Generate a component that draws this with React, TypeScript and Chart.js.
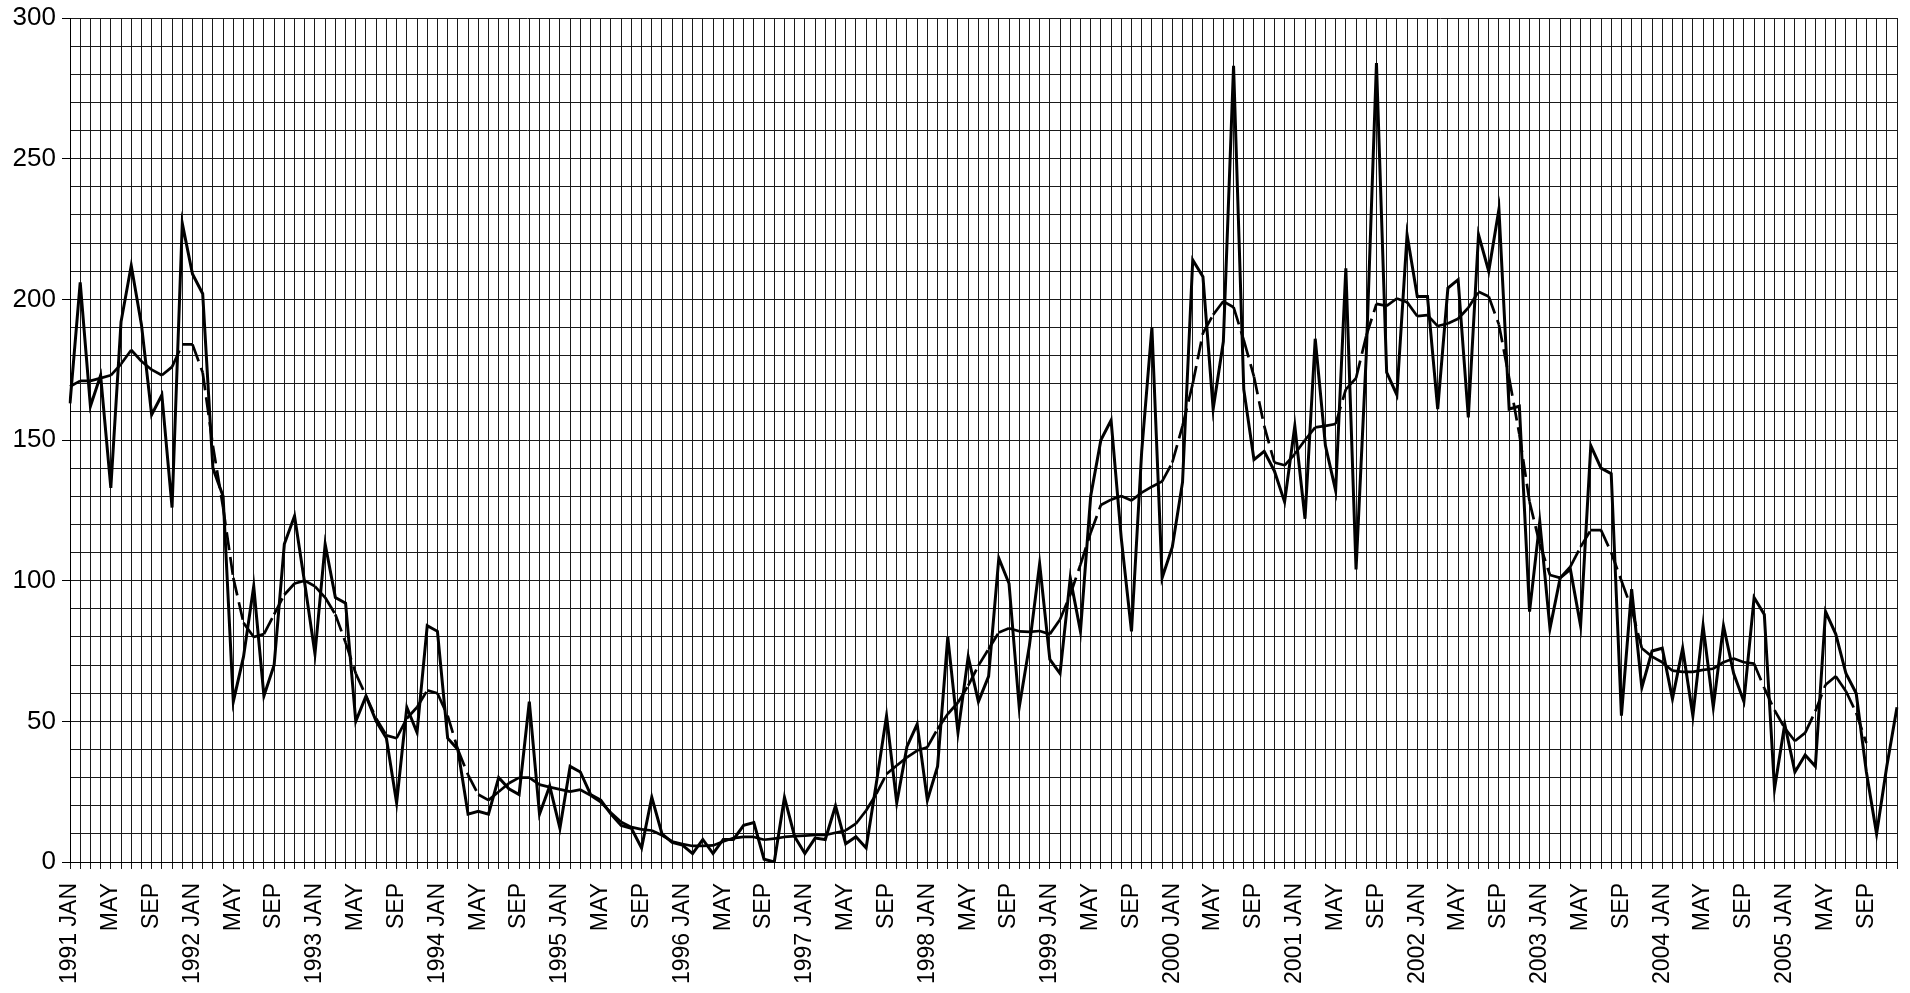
import React, { useEffect, useRef } from 'react';
import { Chart, registerables } from 'chart.js';

Chart.register(...registerables);

const years = [1991, 1992, 1993, 1994, 1995, 1996, 1997, 1998, 1999, 2000, 2001, 2002, 2003, 2004, 2005];
const monthNames = ['JAN', 'FEB', 'MAR', 'APR', 'MAY', 'JUN', 'JUL', 'AUG', 'SEP', 'OCT', 'NOV', 'DEC'];
const categories = years.flatMap((y) => monthNames.map((m) => `${y} ${m}`));

// Monthly values (solid line)
const monthly = [
  163, 206, 162, 173, 133, 192, 212, 191, 159, 166, 126, 227,
  209, 202, 140, 130, 57, 73, 98, 59, 70, 113, 123, 99,
  74, 113, 94, 92, 50, 59, 50, 44, 21, 55, 46, 84,
  82, 44, 40, 17, 18, 17, 30, 26, 24, 57, 17, 27,
  12, 34, 32, 24, 22, 17, 13, 12, 5, 23, 10, 7,
  6, 3, 8, 3, 8, 8, 13, 14, 1, 0, 23, 9,
  3, 8.5, 8, 20, 6.5, 9, 5, 28, 52, 21, 41, 49,
  22, 34, 80, 46, 73, 57, 66, 108, 99, 55, 77, 106,
  72, 67, 101, 82, 130, 150, 157, 115, 82, 146, 190, 101,
  112, 135, 214, 208, 161, 185, 283, 168, 143, 146, 139, 128,
  155, 122, 186, 148, 132, 211, 104, 180, 284, 174, 166, 223,
  201, 201, 161, 204, 207, 158, 223, 210, 232, 161, 162, 89,
  121, 83, 101, 104, 84, 148, 140, 138, 52, 97, 62, 75,
  76, 58, 76, 52, 84, 55, 84, 67, 57, 94, 88, 26,
  49, 32, 38, 34, 89, 81, 67, 60, 32, 10, 34, 55,
];

// Smoothed values (dashed line)
const smoothed = [
  169, 171, 171, 172, 173, 177, 182, 178, 175, 173, 176, 184,
  184, 174, 148, 126, 101, 85, 80, 81, 88, 95, 99, 100,
  98, 94, 88, 78, 67, 59, 51, 45, 44, 51, 55, 61,
  60, 52, 40, 31, 24, 22, 25, 28, 30, 30, 27.5, 26.6,
  25.8, 25, 25.7, 23.7, 21.3, 17.5, 14.2, 12.4, 11.6, 11.2, 9.5, 7.3,
  6.4, 5.7, 5.7, 5.9, 7.3, 8.5, 8.9, 8.9, 7.9, 8.3, 8.9, 9.2,
  9.4, 9.6, 9.6, 10.4, 11.2, 13.6, 18.3, 24.2, 31.3, 34.3, 37.2, 39.6,
  40.8, 47.3, 52.6, 56.7, 62.7, 69.8, 75.7, 81.6, 83.1, 82, 81.8, 82.1,
  81, 86.2, 95, 105.7, 117, 126.9, 128.8, 130.1, 128.5, 131.3, 133.4, 135.3,
  142, 155, 170, 188, 194.5, 199.3, 197.2, 185.5, 172.5, 155, 142, 141,
  145, 150, 154.5, 155, 155.7, 168, 172, 187, 198.4, 197.7, 200.3, 199,
  194, 194.4, 190.5, 191.4, 193.1, 197, 202.7, 201, 191, 172, 152, 128,
  113, 102, 101, 105, 112, 118, 118, 110, 100, 90, 76, 73,
  71, 68, 67.6, 67.6, 68.3, 68.7, 71, 72.3, 71, 70.5, 61.8, 54,
  47.6, 43, 45.9, 53.6, 63, 66, 60.7, 53, 42.3, null, null, null,
];

const yTickLabels = [0, 50, 100, 150, 200, 250, 300];

const FONT = 'Liberation Sans, Arial, Helvetica, sans-serif';

function xTickLabel(index: number): string {
  if (index % 4 !== 0) return '';
  const [y, m] = categories[index].split(' ');
  return m === 'JAN' ? `${y} ${m}` : m;
}

export default function App() {
  const ref = useRef<HTMLCanvasElement | null>(null);

  useEffect(() => {
    if (!ref.current) return;
    const chart = new Chart(ref.current, {
      type: 'line',
      data: {
        labels: categories,
        datasets: [
          {
            label: 'Monthly',
            data: monthly,
            borderColor: '#000',
            borderWidth: 3,
            pointRadius: 0,
            tension: 0,
            fill: false,
          },
          {
            label: 'Smoothed',
            data: smoothed,
            borderColor: '#000',
            borderWidth: 2.7,
            pointRadius: 0,
            tension: 0,
            fill: false,
            borderDash: [18, 7],
            segment: {
              borderDashOffset: (ctx: any) => (ctx.p0DataIndex % 2) * 0.001,
            },
          } as any,
        ],
      },
      options: {
        responsive: false,
        animation: false,
        layout: { padding: { top: 18, right: 13, left: 0, bottom: 0 } },
        plugins: { legend: { display: false }, tooltip: { enabled: false } },
        scales: {
          x: {
            type: 'category',
            offset: false,
            grid: { color: '#1a1a1a', lineWidth: 1, tickLength: 7, tickColor: '#1a1a1a' },
            border: { color: '#000', width: 1 },
            ticks: {
              autoSkip: false,
              minRotation: 90,
              maxRotation: 90,
              padding: 14,
              color: '#000',
              font: { family: FONT, size: 23 },
              callback: (_v: any, index: number) => xTickLabel(index),
            },
            afterFit: (s: any) => {
              s.height = 131;
              s.paddingLeft = 0;
              s.paddingRight = 0;
            },
          },
          y: {
            min: 0,
            max: 300,
            grid: {
              color: '#1a1a1a',
              lineWidth: 1,
              tickLength: 8,
              tickColor: (ctx: any) =>
                ctx.tick && yTickLabels.includes(ctx.tick.value) ? '#000' : 'rgba(0,0,0,0)',
            },
            border: { color: '#000', width: 1 },
            ticks: {
              stepSize: 10,
              autoSkip: false,
              padding: 6,
              color: '#000',
              font: { family: FONT, size: 26 },
              callback: (v: any) => (yTickLabels.includes(Number(v)) ? String(v) : ''),
            },
            afterFit: (s: any) => {
              s.width = 70;
              s.paddingTop = 0;
              s.paddingBottom = 0;
            },
          },
        },
      } as any,
    });
    return () => chart.destroy();
  }, []);

  return (
    <div style={{ position: 'absolute', left: 0, top: 0, width: 1910, height: 993, background: '#fff' }}>
      <canvas ref={ref} width={1910} height={993} />
    </div>
  );
}
